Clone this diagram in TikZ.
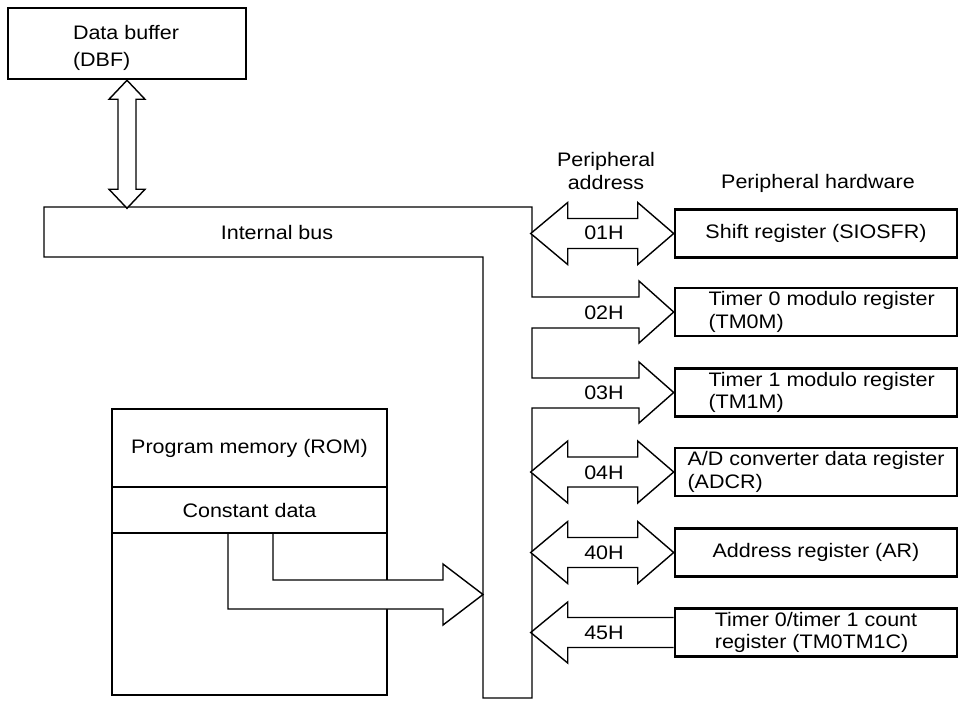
\documentclass[tikz,border=0pt]{standalone}
\usepackage{fontspec}
\setmainfont{Liberation Sans}[FakeStretch=1.1]

\tikzset{
  lbl/.style={font=\fontsize{13.9}{16}\selectfont, inner sep=1pt},
  hw/.style={lbl, draw, line width=1.8pt, minimum width=7.05cm, minimum height=1.2cm, align=left},
  mem/.style={lbl, draw, line width=1.4pt, minimum width=6.875cm},
  bus/.style={line width=1pt, line join=miter},
  fat/.style={line width=1pt, line join=miter, fill=white},
}

\begin{document}
\begin{tikzpicture}[x=0.025cm, y=-0.025cm]
\useasboundingbox (0,0) rectangle (960,700);

% peripheral hardware
\node[lbl] (hdr) at (818,183) {Peripheral hardware};
\node[lbl, align=center] (adr) at (606,171) {Peripheral\\address};
\node[hw] (sfr)  at (816,233.5) {Shift register (SIOSFR)};
\node[hw] (tm0)  at (816,312)   {\hspace*{8pt}Timer 0 modulo register\\\hspace*{8pt}(TM0M)};
\node[hw] (tm1)  at (816,392.5) {\hspace*{8pt}Timer 1 modulo register\\\hspace*{8pt}(TM1M)};
\node[hw] (adcr) at (816,472)   {A/D converter data register\\(ADCR)};
\node[hw] (ar)   at (816,552.5) {Address register (AR)};
\node[hw] (cnt)  at (816,632.5) {Timer 0/timer 1 count\\register (TM0TM1C)};

% internal bus, with the 02H and 03H arrows
\draw[bus] (44,207) -- (532,207) -- (532,297) -- (639,297) -- (639,281) -- (tm0.west)
  -- (639,343) -- (639,328) -- (532,328) -- (532,378) -- (639,378) -- (639,362)
  -- (tm1.west) -- (639,423) -- (639,408) -- (532,408) -- (532,698) -- (483,698)
  -- (483,257) -- (44,257) -- cycle;
\node[lbl] (ib) at (277,233) {Internal bus};

\draw[fat] (sfr.west) -- ++(-36,-31) -- ++(0,16) -- ++(-70,0) -- ++(0,-16) -- ++(-37,31)
  -- ++(37,31) -- ++(0,-16) -- ++(70,0) -- ++(0,16) -- cycle;
\draw[fat] (adcr.west) -- ++(-36,-31) -- ++(0,16) -- ++(-70,0) -- ++(0,-16) -- ++(-37,31)
  -- ++(37,31) -- ++(0,-16) -- ++(70,0) -- ++(0,16) -- cycle;
\draw[fat] (ar.west) -- ++(-36,-31) -- ++(0,16) -- ++(-70,0) -- ++(0,-16) -- ++(-37,31)
  -- ++(37,31) -- ++(0,-16) -- ++(70,0) -- ++(0,16) -- cycle;
\draw[bus] (cnt.west) ++(0,-15) -- ++(-106,0) -- ++(0,-15.5) -- ++(-37,30.5)
  -- ++(37,30.5) -- ++(0,-15.5) -- ++(106,0);

\node[lbl] (a01) at (604,233) {01H};
\node[lbl] (a02) at (604,313) {02H};
\node[lbl] (a03) at (604,393) {03H};
\node[lbl] (a04) at (604,473) {04H};
\node[lbl] (a40) at (604,553) {40H};
\node[lbl] (a45) at (604,633) {45H};

% data buffer
\node[hw, minimum width=5.95cm, minimum height=1.775cm] (dbf) at (127,43.5) {};
\node[lbl, align=left, font=\fontsize{13.9}{19}\selectfont] (dbft) at (126,48) {Data buffer\\(DBF)};
\draw[fat] (dbf.south) -- ++(18,19) -- ++(-9,0) -- ++(0,90) -- ++(9,0) -- ++(-18,19)
  -- ++(-18,-19) -- ++(9,0) -- ++(0,-90) -- ++(-9,0) -- cycle;

% program memory
\node[mem, minimum height=7.15cm] (rom) at (249.5,552) {};
\coordinate (rt) at (483,594.5);
\draw[fat] (228,533) |- (443,609) -- (443,625) -- (rt) -- (443,564) -- (443,580) -| (273,533);
\node[mem, minimum height=1.15cm] (cd) at (249.5,510) {Constant data};
\node[lbl] (pm) at (249.5,448) {Program memory (ROM)};
\end{tikzpicture}
\end{document}
